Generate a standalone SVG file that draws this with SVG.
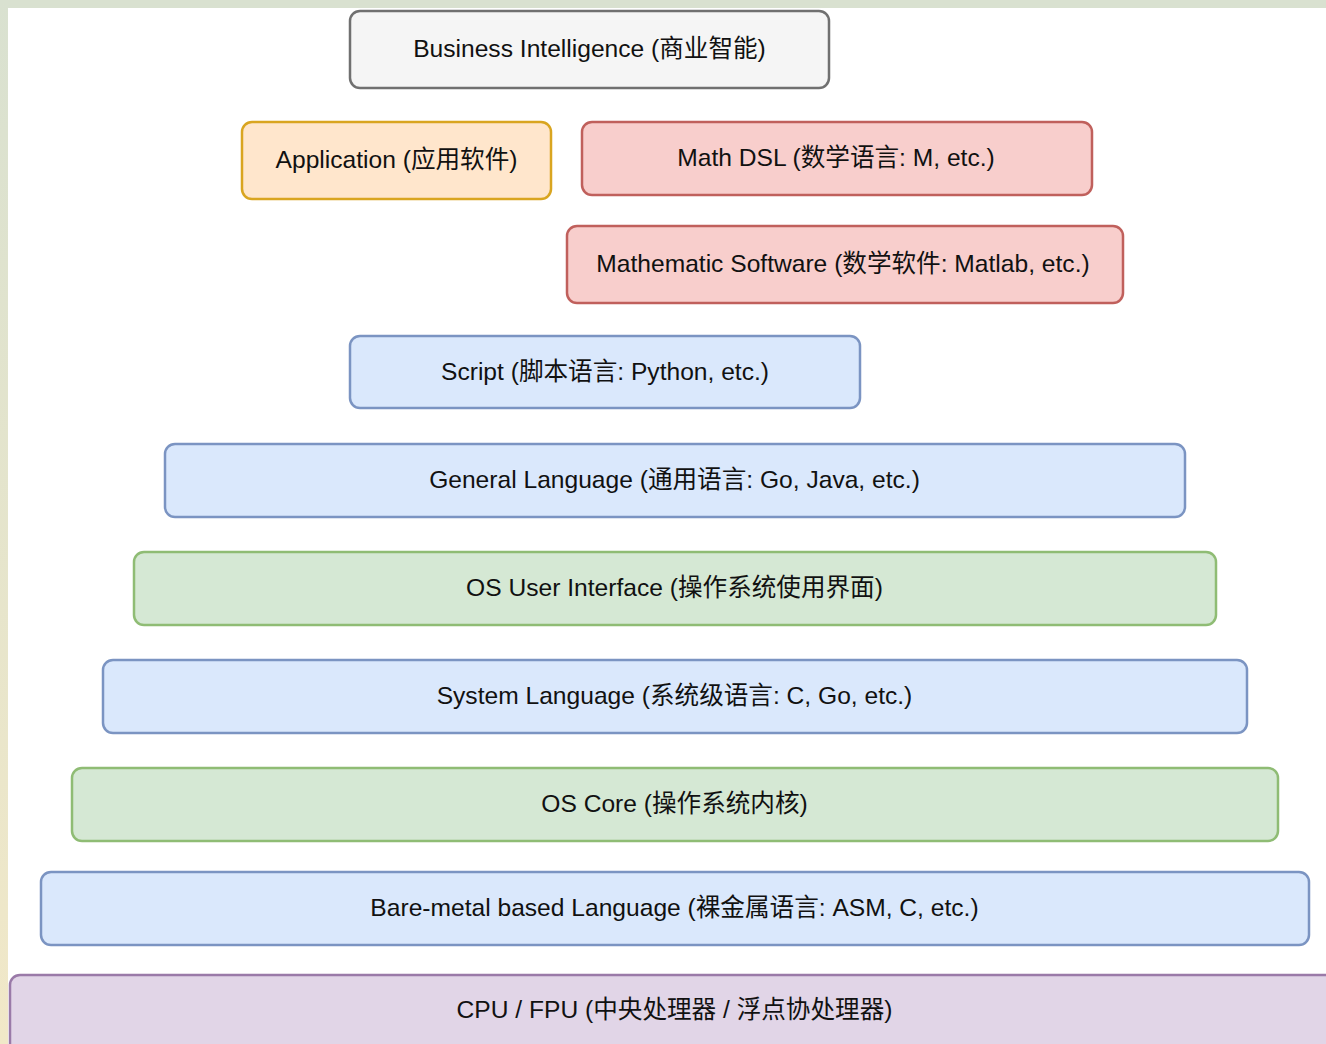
<svg xmlns="http://www.w3.org/2000/svg" width="1326" height="1044" viewBox="0 0 1326 1044">
<defs>
<linearGradient id="lg" x1="0" y1="0" x2="0" y2="1">
<stop offset="0" stop-color="#d9e1d0"/>
<stop offset="1" stop-color="#f1e8c8"/>
</linearGradient>
</defs>
<style>
.b{stroke-width:2.5}
.t{font-family:"Liberation Sans","Noto Sans CJK SC",sans-serif;font-size:24.6px;fill:#111111;text-anchor:middle;dominant-baseline:central}
.gray{fill:#f5f5f5;stroke:#707070}
.orange{fill:#ffe6cc;stroke:#d9a520}
.red{fill:#f8cecc;stroke:#c0605c}
.blue{fill:#dae8fc;stroke:#7b94c2}
.green{fill:#d5e8d4;stroke:#8fbc74}
.purple{fill:#e1d5e7;stroke:#9a7aa8}
</style>
<rect x="0" y="0" width="1326" height="1044" fill="#ffffff"/>
<rect x="0" y="0" width="1326" height="8" fill="#d9e1d0"/>
<rect x="0" y="0" width="8" height="1044" fill="url(#lg)"/>
<g id="connectors"/>
<g id="bi"><rect class="b gray" x="350" y="11" width="479" height="77" rx="10"/><text class="t" x="589.5" y="48">Business Intelligence (商业智能)</text></g>
<g id="app"><rect class="b orange" x="242" y="122" width="309" height="77" rx="10"/><text class="t" x="396.5" y="159.5">Application (应用软件)</text></g>
<g id="mathdsl"><rect class="b red" x="582" y="122" width="510" height="73" rx="10"/><text class="t" x="836" y="157.5">Math DSL (数学语言: M, etc.)</text></g>
<g id="mathsw"><rect class="b red" x="567" y="226" width="556" height="77" rx="10"/><text class="t" x="843" y="263.5">Mathematic Software (数学软件: Matlab, etc.)</text></g>
<g id="script"><rect class="b blue" x="350" y="336" width="510" height="72" rx="10"/><text class="t" x="605" y="371">Script (脚本语言: Python, etc.)</text></g>
<g id="general"><rect class="b blue" x="165" y="444" width="1020" height="73" rx="10"/><text class="t" x="674.5" y="479.5">General Language (通用语言: Go, Java, etc.)</text></g>
<g id="osui"><rect class="b green" x="134" y="552" width="1082" height="73" rx="10"/><text class="t" x="674.5" y="587.5">OS User Interface (操作系统使用界面)</text></g>
<g id="system"><rect class="b blue" x="103" y="660" width="1144" height="73" rx="10"/><text class="t" x="674.5" y="695.5">System Language (系统级语言: C, Go, etc.)</text></g>
<g id="oscore"><rect class="b green" x="72" y="768" width="1206" height="73" rx="10"/><text class="t" x="674.5" y="803.5">OS Core (操作系统内核)</text></g>
<g id="bare"><rect class="b blue" x="41" y="872" width="1268" height="73" rx="10"/><text class="t" x="674.5" y="907.5">Bare-metal based Language (裸金属语言: ASM, C, etc.)</text></g>
<g id="cpu"><rect class="b purple" x="10" y="975" width="1340" height="80" rx="10"/><text class="t" x="674.5" y="1009">CPU / FPU (中央处理器 / 浮点协处理器)</text></g>
</svg>
